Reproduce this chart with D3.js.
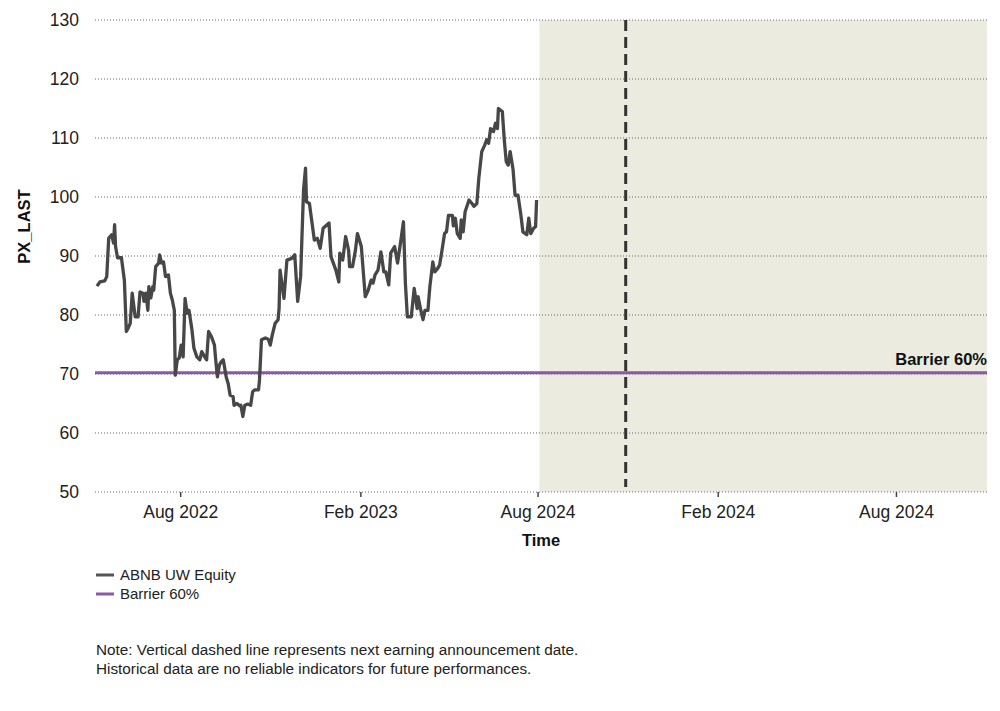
<!DOCTYPE html>
<html>
<head>
<meta charset="utf-8">
<script src="https://cdn.jsdelivr.net/npm/d3@7"></script>
<style>
  body { margin: 0; background: #fff; }
  svg { font-family: "Liberation Sans", Arial, sans-serif; display: block; }
</style>
</head>
<body>
<svg width="1000" height="711"></svg>
<script>
// ABNB UW Equity closing prices
const dates = [
  '2022-05-08','2022-05-11','2022-05-16','2022-05-18','2022-05-20','2022-05-23','2022-05-25','2022-05-26','2022-05-27','2022-05-29',
  '2022-06-02','2022-06-05','2022-06-07','2022-06-09','2022-06-11','2022-06-13','2022-06-16','2022-06-19','2022-06-21','2022-06-24',
  '2022-06-25','2022-06-27','2022-06-29','2022-06-30','2022-07-02','2022-07-04','2022-07-05','2022-07-07','2022-07-10','2022-07-11',
  '2022-07-13','2022-07-15','2022-07-17','2022-07-20','2022-07-22','2022-07-24','2022-07-26','2022-07-27','2022-07-29','2022-07-31',
  '2022-08-02','2022-08-04','2022-08-06','2022-08-08','2022-08-10','2022-08-13','2022-08-15','2022-08-18','2022-08-21','2022-08-23',
  '2022-08-26','2022-08-28','2022-08-30','2022-09-02','2022-09-05','2022-09-06','2022-09-08','2022-09-10','2022-09-12','2022-09-14',
  '2022-09-17','2022-09-19','2022-09-21','2022-09-24','2022-09-25','2022-09-28','2022-10-01','2022-10-02','2022-10-04','2022-10-06',
  '2022-10-09','2022-10-12','2022-10-14','2022-10-16','2022-10-20','2022-10-21','2022-10-23','2022-10-27','2022-10-30','2022-11-01',
  '2022-11-03','2022-11-06','2022-11-09','2022-11-10','2022-11-11','2022-11-15','2022-11-18','2022-11-23','2022-11-26','2022-11-29',
  '2022-12-02','2022-12-05','2022-12-07','2022-12-08','2022-12-11','2022-12-13','2022-12-16','2022-12-19','2022-12-22','2022-12-25',
  '2022-12-31','2023-01-02','2023-01-07','2023-01-10','2023-01-11','2023-01-14','2023-01-17','2023-01-20','2023-01-21','2023-01-24',
  '2023-01-27','2023-01-29','2023-02-02','2023-02-06','2023-02-09','2023-02-12','2023-02-14','2023-02-16','2023-02-19','2023-02-22',
  '2023-02-25','2023-02-27','2023-03-02','2023-03-04','2023-03-08','2023-03-11','2023-03-14','2023-03-17','2023-03-19','2023-03-21',
  '2023-03-25','2023-03-28','2023-03-31','2023-04-01','2023-04-04','2023-04-06','2023-04-08','2023-04-11','2023-04-13','2023-04-16',
  '2023-04-18','2023-04-21','2023-04-23','2023-04-26','2023-04-28','2023-04-30','2023-05-02','2023-05-06','2023-05-07','2023-05-09',
  '2023-05-11','2023-05-14','2023-05-15','2023-05-17','2023-05-19','2023-05-23','2023-05-26','2023-05-28','2023-05-31','2023-06-02',
  '2023-06-05','2023-06-08','2023-06-10','2023-06-12','2023-06-14','2023-06-17','2023-06-19','2023-06-21','2023-06-22','2023-06-26',
  '2023-06-28','2023-06-30','2023-07-02','2023-07-04','2023-07-07','2023-07-09','2023-07-12','2023-07-15','2023-07-17','2023-07-21',
  '2023-07-23','2023-07-25','2023-07-28','2023-07-30','2023-07-31'
];
const prices = [
  84.9, 85.6, 85.8, 86.5, 93.0, 93.6, 92.2, 95.3, 91.6, 89.7,
  89.7, 85.9, 77.2, 77.8, 78.6, 83.7, 79.7, 79.7, 83.9, 83.7,
  82.3, 83.7, 80.8, 84.8, 82.9, 84.8, 84.2, 88.2, 88.8, 90.2,
  88.8, 89.0, 86.5, 86.8, 83.7, 82.5, 80.8, 69.8, 72.4, 72.7,
  74.9, 72.9, 82.8, 80.3, 80.8, 77.5, 74.4, 72.9, 72.4, 73.8,
  72.9, 72.4, 77.2, 76.3, 74.9, 72.9, 69.5, 71.5, 72.1, 72.4,
  69.5, 68.4, 66.4, 66.2, 64.7, 65.0, 64.6, 64.7, 62.8, 64.7,
  64.9, 64.7, 67.0, 67.3, 67.3, 69.0, 75.8, 76.1, 75.9, 74.9,
  76.6, 78.6, 79.2, 81.1, 87.6, 82.8, 89.3, 89.6, 90.2, 82.3,
  86.5, 101.2, 104.9, 99.2, 98.9, 96.4, 92.7, 93.0, 91.3, 94.7,
  95.6, 89.9, 87.6, 85.6, 90.5, 89.3, 93.3, 91.0, 88.2, 88.2,
  91.0, 93.8, 91.6, 83.1, 84.2, 85.9, 85.4, 86.8, 87.6, 90.7,
  87.3, 87.3, 85.1, 90.5, 91.6, 88.8, 92.2, 95.8, 85.4, 79.7,
  79.7, 84.5, 81.1, 83.1, 80.6, 79.2, 80.8, 80.8, 84.8, 89.0,
  87.3, 87.9, 88.5, 91.6, 93.8, 94.1, 96.9, 96.9, 95.1, 96.4,
  93.8, 93.0, 96.1, 94.1, 97.5, 99.5, 98.9, 98.4, 98.9, 103.2,
  107.7, 108.8, 109.7, 109.1, 111.6, 111.1, 112.5, 111.6, 115.0, 114.5,
  109.7, 106.0, 105.4, 107.7, 104.6, 100.3, 100.3, 96.9, 94.1, 93.6,
  96.4, 93.8, 94.7, 95.0, 99.5
];

const xDomain = ['2022-05-06', '2024-11-02'];
const yTicks = [50, 60, 70, 80, 90, 100, 110, 120, 130];
const xTickDates = ['2022-08-01', '2023-02-01', '2023-08-01', '2024-02-01', '2024-08-01'];
const xTickLabels = ['Aug 2022', 'Feb 2023', 'Aug 2024', 'Feb 2024', 'Aug 2024'];
const barrierValue = 70.2;
const forecastStart = '2023-08-03';
const earningsDate = '2023-10-30';
const seriesNames = ['ABNB UW Equity', 'Barrier 60%'];
const notes = [
  'Note: Vertical dashed line represents next earning announcement date.',
  'Historical data are no reliable indicators for future performances.'
];

const parse = d3.timeParse('%Y-%m-%d');
const data = dates.map((d, i) => ({ date: parse(d), value: prices[i] }));

const svg = d3.select('svg');
const margin = { top: 20, right: 13, bottom: 219, left: 95 };
const innerWidth = 1000 - margin.left - margin.right;
const innerHeight = 711 - margin.top - margin.bottom;

const xScale = d3.scaleTime()
  .domain(xDomain.map(parse))
  .range([0, innerWidth]);

const yScale = d3.scaleLinear()
  .domain([50, 130])
  .range([innerHeight, 0]);

const g = svg.append('g')
  .attr('transform', `translate(${margin.left}, ${margin.top})`);

// shaded future period
g.append('rect')
  .attr('x', xScale(parse(forecastStart)))
  .attr('y', 0)
  .attr('width', innerWidth - xScale(parse(forecastStart)))
  .attr('height', innerHeight)
  .attr('fill', '#ebebe0');

// dotted grid
g.selectAll('.grid').data(yTicks)
  .enter().append('line')
    .attr('class', 'grid')
    .attr('x1', 0)
    .attr('x2', innerWidth)
    .attr('y1', d => yScale(d))
    .attr('y2', d => yScale(d))
    .attr('stroke', '#666')
    .attr('stroke-width', 1)
    .attr('stroke-dasharray', '1,2');

// y axis labels
const yAxis = g.append('g')
  .call(d3.axisLeft(yScale).tickValues(yTicks).tickSize(0).tickPadding(16))
  .attr('font-family', '"Liberation Sans", Arial, sans-serif')
  .attr('font-size', 17.5);
yAxis.select('.domain').remove();
yAxis.selectAll('text').attr('fill', '#222');

// x axis
const xAxis = g.append('g')
  .attr('transform', `translate(0, ${innerHeight})`)
  .call(d3.axisBottom(xScale)
    .tickValues(xTickDates.map(parse))
    .tickFormat((d, i) => xTickLabels[i])
    .tickSize(5)
    .tickPadding(9))
  .attr('font-family', '"Liberation Sans", Arial, sans-serif')
  .attr('font-size', 17.5);
xAxis.select('.domain').remove();
xAxis.selectAll('line').attr('stroke', '#444').attr('stroke-width', 1.5);
xAxis.selectAll('text').attr('fill', '#222');

// earnings date dashed line
g.append('line')
  .attr('x1', xScale(parse(earningsDate)))
  .attr('x2', xScale(parse(earningsDate)))
  .attr('y1', 0)
  .attr('y2', innerHeight - 5)
  .attr('stroke', '#333')
  .attr('stroke-width', 3)
  .attr('stroke-dasharray', '11,6');

// barrier
g.append('line')
  .attr('x1', 0)
  .attr('x2', innerWidth)
  .attr('y1', yScale(barrierValue))
  .attr('y2', yScale(barrierValue))
  .attr('stroke', '#8a58a4')
  .attr('stroke-width', 3);

g.append('text')
  .attr('x', innerWidth)
  .attr('y', yScale(barrierValue) - 8)
  .attr('text-anchor', 'end')
  .attr('font-size', 16.5)
  .attr('font-weight', 'bold')
  .attr('fill', '#111')
  .text(seriesNames[1]);

// price line
const line = d3.line()
  .x(d => xScale(d.date))
  .y(d => yScale(d.value));

g.append('path')
  .datum(data)
  .attr('d', line)
  .attr('fill', 'none')
  .attr('stroke', '#474747')
  .attr('stroke-width', 3.3)
  .attr('stroke-linejoin', 'round');

// axis titles
g.append('text')
  .attr('x', innerWidth / 2)
  .attr('y', innerHeight + 54)
  .attr('text-anchor', 'middle')
  .attr('font-size', 16.5)
  .attr('font-weight', 'bold')
  .attr('fill', '#111')
  .text('Time');

svg.append('text')
  .attr('transform', `translate(30, ${margin.top + yScale(95)}) rotate(-90)`)
  .attr('text-anchor', 'middle')
  .attr('font-size', 16.5)
  .attr('font-weight', 'bold')
  .attr('fill', '#111')
  .text('PX_LAST');

// legend
const legendColors = ['#555', '#8a58a4'];
const legend = svg.append('g').attr('transform', 'translate(96, 575)');
const items = legend.selectAll('g').data(seriesNames)
  .enter().append('g')
    .attr('transform', (d, i) => `translate(0, ${i * 19})`);
items.append('line')
  .attr('x1', 0).attr('x2', 18)
  .attr('stroke', (d, i) => legendColors[i])
  .attr('stroke-width', 3);
items.append('text')
  .attr('x', 24)
  .attr('dy', '0.35em')
  .attr('font-size', 15)
  .attr('fill', '#222')
  .text(d => d);

// notes
svg.append('g').selectAll('text').data(notes)
  .enter().append('text')
    .attr('x', 96)
    .attr('y', (d, i) => 655 + i * 19)
    .attr('font-size', 15.3)
    .attr('fill', '#222')
    .text(d => d);
</script>
</body>
</html>
